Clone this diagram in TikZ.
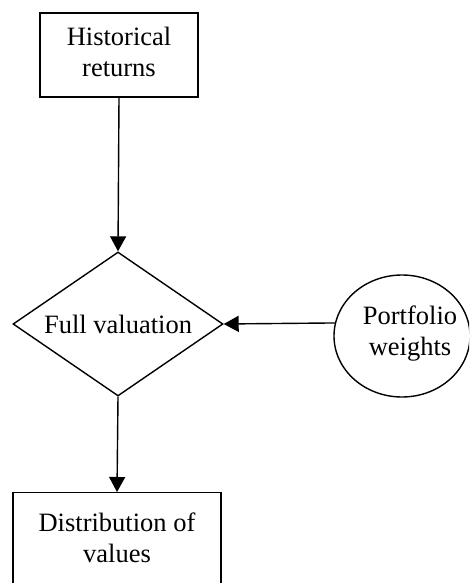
\documentclass[tikz,border=0pt]{standalone}
\usepackage{fontspec}
\setmainfont{Liberation Serif}
\usetikzlibrary{shapes.geometric, arrows.meta}
\begin{document}
\begin{tikzpicture}[x=1pt,y=-1pt,
  every node/.style={font=\fontsize{26.5}{31}\selectfont, line width=1.4pt},
  boxnode/.style={draw, rectangle, inner sep=0pt},
  decision/.style={draw, diamond, aspect=1.458, minimum width=210pt, minimum height=144pt, inner sep=0pt},
  oval/.style={draw, ellipse, minimum width=136pt, minimum height=122pt, inner sep=0pt},
  arr/.style={-{Triangle[length=15pt,width=16pt]}, line width=1.4pt}]
\useasboundingbox (0,0) rectangle (469,583);
\clip (0,0) rectangle (469,583);
\fill[white] (0,0) rectangle (469,583);
\node[boxnode, minimum width=158pt, minimum height=84pt] (hist) at (119,55)
  {\begin{tabular}{@{}c@{}}Historical\\returns\end{tabular}};
\node[decision] (diam) at (118,324) {Full valuation};
\node[oval] (port) at (402,336)
  {\makebox[0pt]{\hspace{16pt}\raisebox{11.7pt}[0pt][0pt]{\begin{tabular}[t]{@{}c@{}}Portfolio\\weights\end{tabular}}}};
\node[boxnode, minimum width=208pt, anchor=north, text height=39pt, text depth=100pt] (dist) at (117,492)
  {\begin{tabular}[t]{@{}c@{}}Distribution of\\values\end{tabular}};
\draw[arr] (hist.south) -- (diam.north);
\draw[arr] (port.169.8) -- (diam.east);
\draw[arr] (diam.south) -- (dist.north);
\end{tikzpicture}
\end{document}
